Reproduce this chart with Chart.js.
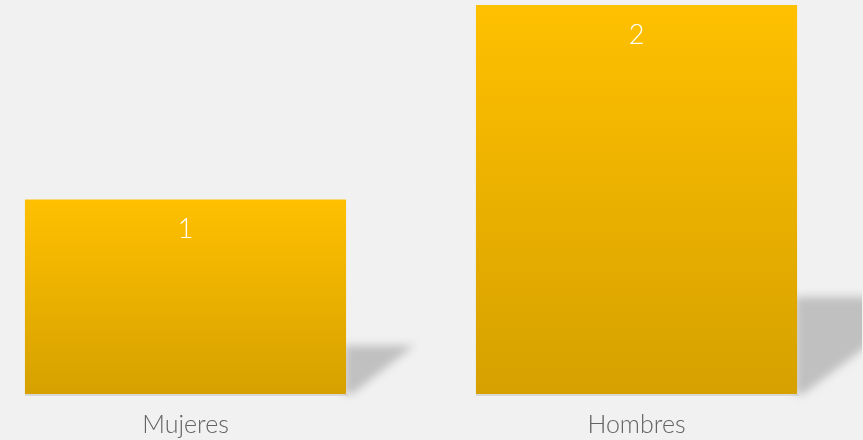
<!DOCTYPE html>
<html>
<head>
<meta charset="utf-8">
<script src="https://cdn.jsdelivr.net/npm/chart.js@4"></script>
<style>
  html, body { margin: 0; padding: 0; background: #f1f1f1; overflow: hidden; }
  #wrap { position: absolute; left: -40px; top: 0; width: 902px; height: 440px; }
</style>
</head>
<body>
<div id="wrap"><canvas id="grafico"></canvas></div>
<script>
// datos del gráfico
const categorias = ["Mujeres", "Hombres"];
const valores = [1, 2];

// sombra inclinada detrás de cada barra
const sombraPlugin = {
    id: 'sombra',
    beforeDatasetsDraw(chart) {
        const ctx = chart.ctx;
        const meta = chart.getDatasetMeta(0);
        ctx.save();
        ctx.filter = 'blur(4px)';
        ctx.fillStyle = 'rgba(160,160,160,0.6)';
        meta.data.forEach(bar => {
            const derecha = bar.x + bar.width / 2;
            const alto = (bar.base - bar.y) / 4;
            const ancho = alto * 1.4;
            ctx.beginPath();
            ctx.moveTo(derecha - 2, bar.base - alto);
            ctx.lineTo(derecha + ancho, bar.base - alto);
            ctx.lineTo(derecha + 6, bar.base);
            ctx.lineTo(derecha - 2, bar.base);
            ctx.closePath();
            ctx.fill();
        });
        ctx.filter = 'none';
        ctx.fillStyle = 'rgba(200,200,200,0.6)';
        meta.data.forEach(bar => {
            ctx.fillRect(bar.x - bar.width / 2, bar.base, bar.width + 2, 2);
        });
        ctx.restore();
    }
};

// etiquetas blancas dentro de las barras
const etiquetasPlugin = {
    id: 'etiquetas',
    afterDatasetsDraw(chart) {
        const ctx = chart.ctx;
        const meta = chart.getDatasetMeta(0);
        ctx.save();
        ctx.fillStyle = '#ffffff';
        ctx.font = '300 27px Lato';
        ctx.textAlign = 'center';
        ctx.textBaseline = 'middle';
        meta.data.forEach((bar, i) => {
            ctx.fillText(String(valores[i]), bar.x, bar.y + 30);
        });
        ctx.restore();
    }
};

const ctx = document.getElementById('grafico').getContext('2d');
new Chart(ctx, {
    type: 'bar',
    data: {
        labels: categorias,
        datasets: [{
            data: valores,
            backgroundColor: c => {
                const area = c.chart.chartArea;
                if (!area) return '#FFC000';
                const y = c.chart.scales.y;
                const top = y.getPixelForValue(valores[c.dataIndex]);
                const base = y.getPixelForValue(0);
                const g = c.chart.ctx.createLinearGradient(0, top, 0, base);
                g.addColorStop(0, '#FFC000');
                g.addColorStop(1, '#D6A100');
                return g;
            },
            borderWidth: 0,
            barPercentage: 0.712,
            categoryPercentage: 1
        }]
    },
    options: {
        responsive: true,
        maintainAspectRatio: false,
        animation: false,
        layout: { padding: { top: 5, left: 0, right: 0, bottom: 0 } },
        plugins: {
            legend: { display: false },
            tooltip: { enabled: false }
        },
        scales: {
            x: {
                grid: { display: false, drawTicks: false },
                border: { display: false },
                ticks: {
                    color: '#636363',
                    font: { family: 'Lato', size: 25, weight: '300' },
                    padding: 16
                },
                afterFit(scale) { scale.height = 46; }
            },
            y: {
                display: false,
                min: 0,
                max: 2
            }
        }
    },
    plugins: [sombraPlugin, etiquetasPlugin]
});
</script>
</body>
</html>
